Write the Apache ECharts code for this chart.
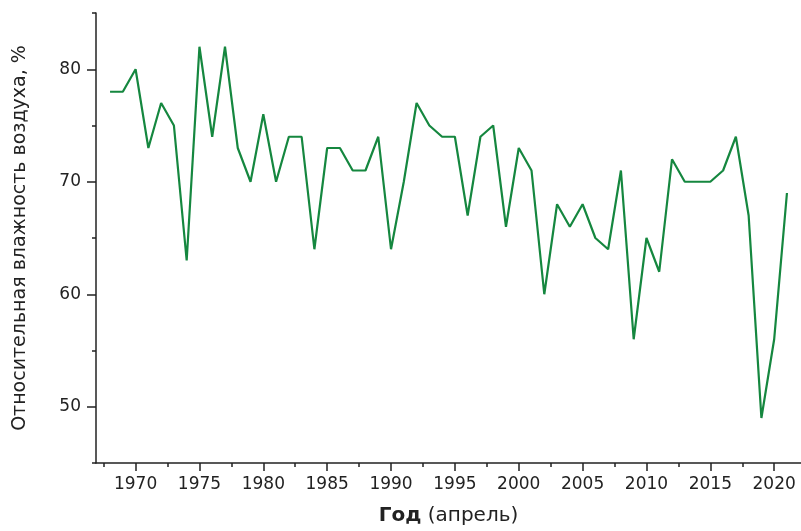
<!DOCTYPE html>
<html>
<head>
<meta charset="utf-8">
<script src="https://cdn.jsdelivr.net/npm/echarts@6/dist/echarts.min.js"></script>
<style>
  html, body { margin: 0; padding: 0; background: #fff; }
  #chart { width: 801px; height: 531px; }
</style>
</head>
<body>
<div id="chart"></div>
<script>
// April relative humidity
const years = [
    1968, 1969, 1970, 1971, 1972, 1973, 1974, 1975, 1976, 1977,
    1978, 1979, 1980, 1981, 1982, 1983, 1984, 1985, 1986, 1987,
    1988, 1989, 1990, 1991, 1992, 1993, 1994, 1995, 1996, 1997,
    1998, 1999, 2000, 2001, 2002, 2003, 2004, 2005, 2006, 2007,
    2008, 2009, 2010, 2011, 2012, 2013, 2014, 2015, 2016, 2017,
    2018, 2019, 2020, 2021,
];
const humidity = [
    78, 78, 80, 73, 77, 75, 63, 82, 74, 82,
    73, 70, 76, 70, 74, 74, 64, 73, 73, 71,
    71, 74, 64, 70, 77, 75, 74, 74, 67, 74,
    75, 66, 73, 71, 60, 68, 66, 68, 65, 64,
    71, 56, 65, 62, 72, 70, 70, 70, 71, 74,
    67, 49, 56, 69,
];
const xMajorTicks = [1970, 1975, 1980, 1985, 1990, 1995, 2000, 2005, 2010, 2015, 2020];
const xMinorTicks = [1967.5, 1972.5, 1977.5, 1982.5, 1987.5, 1992.5, 1997.5, 2002.5, 2007.5, 2012.5, 2017.5];
const yMajorTicks = [50, 60, 70, 80];
const yMinorTicks = [45, 55, 65, 75, 85];

const font = "DejaVu Sans";
const axisColor = "#222";
const textColor = "#222";

const chart = echarts.init(document.getElementById("chart"));

const xRange = { min: 1966.9, max: 2022.1 };
const yRange = { min: 45, max: 85 };

chart.setOption({
    animation: false,
    grid: { left: 96, right: 0, top: 13, bottom: 66 },
    xAxis: [
        {
            type: "value",
            position: "bottom",
            ...xRange,
            axisLine: { onZero: false, lineStyle: { color: axisColor, width: 1.5 } },
            axisTick: { customValues: xMajorTicks, length: 8, lineStyle: { color: axisColor, width: 1.5 } },
            axisLabel: {
                customValues: xMajorTicks,
                formatter: (v) => String(v),
                margin: 13,
                color: textColor,
                fontFamily: font,
                fontSize: 17,
            },
            splitLine: { show: false },
            name: "{b|Год} (апрель)",
            nameLocation: "middle",
            nameGap: 43,
            nameTextStyle: {
                fontFamily: font,
                fontSize: 20,
                color: textColor,
                rich: {
                    b: { fontFamily: font, fontSize: 20, fontWeight: "bold", color: textColor },
                },
            },
        },
        {
            type: "value",
            position: "bottom",
            ...xRange,
            axisLine: { show: false, onZero: false },
            axisTick: { customValues: xMinorTicks, length: 4, lineStyle: { color: axisColor, width: 1.5 } },
            axisLabel: { show: false },
            splitLine: { show: false },
        },
    ],
    yAxis: [
        {
            type: "value",
            position: "left",
            ...yRange,
            axisLine: { onZero: false, lineStyle: { color: axisColor, width: 1.5 } },
            axisTick: { customValues: yMajorTicks, length: 9, lineStyle: { color: axisColor, width: 1.5 } },
            axisLabel: {
                customValues: yMajorTicks,
                margin: 15,
                color: textColor,
                fontFamily: font,
                fontSize: 17,
            },
            splitLine: { show: false },
            name: "Относительная влажность воздуха, %",
            nameLocation: "middle",
            nameGap: 66,
            nameTextStyle: { fontFamily: font, fontSize: 19, color: textColor },
        },
        {
            type: "value",
            position: "left",
            ...yRange,
            axisLine: { show: false, onZero: false },
            axisTick: { customValues: yMinorTicks, length: 4, lineStyle: { color: axisColor, width: 1.5 } },
            axisLabel: { show: false },
            splitLine: { show: false },
        },
    ],
    series: [
        {
            type: "line",
            xAxisIndex: 0,
            yAxisIndex: 0,
            data: years.map((y, i) => [y, humidity[i]]),
            showSymbol: false,
            lineStyle: { color: "#15873f", width: 2.2 },
        },
    ],
});
</script>
</body>
</html>
